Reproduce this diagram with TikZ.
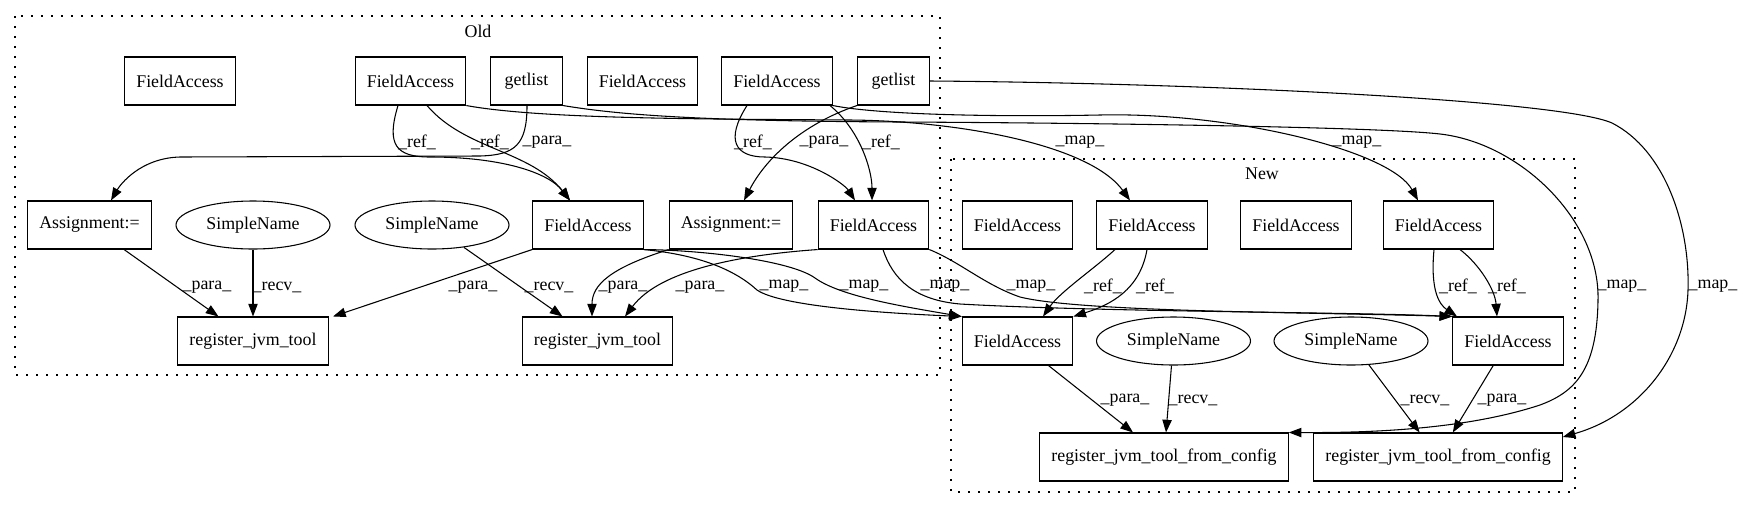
\documentclass[tikz,border=0pt]{standalone}
\usepackage{fontspec}
\setmainfont{Liberation Serif}
\usetikzlibrary{arrows.meta,shapes.geometric}
\begin{document}
\begin{tikzpicture}[
			x=0.75pt, y=-0.75pt,
			font=\fontsize{13.4}{16}\selectfont,
			box/.style={draw, line width=0.8pt, rectangle, minimum height=36pt, minimum width=54pt, inner xsep=8.7pt},
			oval/.style={draw, line width=0.8pt, ellipse, minimum width=115.5pt, minimum height=36pt, inner sep=0pt},
			edge/.style={line width=0.8pt, -{Triangle[length=9.5pt,width=7pt]}},
			lbl/.style={inner sep=1pt},
			cluster/.style={line width=1pt, dash pattern=on 1.5pt off 6pt}
		]
		\useasboundingbox (0,0) rectangle (1744,508);

		\draw[cluster] (15,16) rectangle (940,375);
		\node (oldlbl) at (478,31) {Old};
		\draw[cluster] (951,159) rectangle (1575,492);
		\node (newlbl) at (1262,174) {New};

		\node[box] (ofa1) at (180,81) {FieldAccess};
		\node[box] (ofa2) at (410.5,81) {FieldAccess};
		\node[box] (ogl1) at (526.5,81) {getlist};
		\node[box] (ofa3) at (642.5,81) {FieldAccess};
		\node[box] (ofa4) at (777,81) {FieldAccess};
		\node[box] (ogl2) at (893.5,81) {getlist};
		\node[box] (oas1) at (89.5,225) {Assignment:=};
		\node[oval] (osn1) at (253,225) {SimpleName};
		\node[oval] (osn2) at (432,225) {SimpleName};
		\node[box] (ofa5) at (588,225) {FieldAccess};
		\node[box] (oas2) at (731,225) {Assignment:=};
		\node[box] (ofa6) at (873.5,225) {FieldAccess};
		\node[box] (oreg1) at (253,341) {register\_jvm\_tool};
		\node[box] (oreg2) at (597.5,341) {register\_jvm\_tool};

		\node[box] (nfa1) at (1017.5,225) {FieldAccess};
		\node[box] (nfa2) at (1152,225) {FieldAccess};
		\node[box] (nfa3) at (1296,225) {FieldAccess};
		\node[box] (nfa4) at (1438.5,225) {FieldAccess};
		\node[box] (nfa5) at (1017.5,341) {FieldAccess};
		\node[oval] (nsn1) at (1173.5,341) {SimpleName};
		\node[oval] (nsn2) at (1351,341) {SimpleName};
		\node[box] (nfa6) at (1508,341) {FieldAccess};
		\node[box] (nrc1) at (1164,457) {register\_jvm\_tool\_from\_config};
		\node[box] (nrc2) at (1438,457) {register\_jvm\_tool\_from\_config};

		\draw[edge] (ofa2.south -| 398,0) .. controls (386,145) and (396,157) .. (430,157) .. controls (500,157) and (548,172) .. (ofa5.north -| 570,0) node[lbl] at (417,142) {\_ref\_};
		\draw[edge] (ofa2.south -| 427,0) .. controls (465,150) and (530,150) .. (ofa5.north -| 570,0) node[lbl] at (490,142) {\_ref\_};
		\draw[edge] (ogl1.south -| 527,0) .. controls (527,145) and (515,155) .. (480,156) -- (180,157) .. controls (140,158) and (120,185) .. (oas1.north -| 111,0) node[lbl] at (547,142) {\_para\_};
		\draw[edge] (ofa4.south -| 747,0) .. controls (725,140) and (735,157) .. (765,157) .. controls (810,158) and (845,185) .. (ofa6.north -| 855,0) node[lbl] at (753,142) {\_ref\_};
		\draw[edge] (ogl2.south west) .. controls (800,125) and (765,160) .. (oas2.north -| 744,0) node[lbl] at (824,142) {\_para\_};
		\draw[edge] (ofa4.south -| 830,0) .. controls (860,130) and (872,170) .. (ofa6.north -| 872,0) node[lbl] at (881,142) {\_ref\_};

		\draw[edge] (oas1) -- (oreg1) node[lbl] at (207,287) {\_para\_};
		\draw[edge] (osn1) -- (oreg1) node[lbl] at (277,287) {\_recv\_};
		\draw[edge] (ofa5.south west) -- (oreg1.north -| 333,0) node[lbl] at (473,287) {\_para\_};
		\draw[edge] (osn2) -- (oreg2) node[lbl] at (549,287) {\_recv\_};
		\draw[edge] (oas2.south west) .. controls (610,268) and (592,285) .. (oreg2.north -| 592,0) node[lbl] at (623,287) {\_para\_};
		\draw[edge] (ofa6.south west) .. controls (740,255) and (660,270) .. (oreg2.north -| 625,0) node[lbl] at (700,287) {\_para\_};

		\draw[edge] (ofa2.south east) .. controls (540,119) and (700,119) .. (850,120) .. controls (960,121) and (1090,145) .. (nfa2.north -| 1130,0) node[lbl] at (1080,142) {\_map\_};
		\draw[edge] (ogl1.south east) .. controls (620,115) and (700,121) .. (900,122) .. controls (1100,123) and (1380,127) .. (1440,134) .. controls (1520,143) and (1600,220) .. (1598,300) .. controls (1597,370) and (1575,392) .. (1540,405) .. controls (1470,428) and (1380,433) .. (nrc1.north east) node[lbl] at (1622,286) {\_map\_};
		\draw[edge] (ofa4.south east) .. controls (880,115) and (1000,117) .. (1100,115) .. controls (1230,112) and (1390,150) .. (nfa4.north -| 1418,0) node[lbl] at (1357,142) {\_map\_};
		\draw[edge] (ogl2.east) .. controls (1200,83) and (1560,100) .. (1612,123) .. controls (1665,150) and (1690,225) .. (1688,290) .. controls (1686,355) and (1640,415) .. (nrc2.east |- 0,437) node[lbl] at (1713,286) {\_map\_};
		\draw[edge] (ofa5.south east) .. controls (700,255) and (735,270) .. (757,290) .. controls (780,306) and (880,313) .. (nfa5.north west) node[lbl] at (784,286) {\_map\_};
		\draw[edge] (ofa5.south east) .. controls (700,250) and (790,260) .. (815,278) .. controls (840,296) and (900,306) .. (nfa5.north west) node[lbl] at (864,286) {\_map\_};
		\draw[edge] (ofa6.south -| 883,0) .. controls (893,280) and (915,300) .. (960,304) .. controls (1100,312) and (1350,312) .. (nfa6.north west) node[lbl] at (945,286) {\_map\_};
		\draw[edge] (ofa6.south east) .. controls (960,262) and (985,285) .. (1020,297) .. controls (1080,312) and (1300,312) .. (nfa6.north west) node[lbl] at (1031,286) {\_map\_};

		\draw[edge] (nfa2.south -| 1115,0) .. controls (1095,268) and (1060,292) .. (nfa5.north -| 1043,0) node[lbl] at (1103,286) {\_ref\_};
		\draw[edge] (nfa2.south -| 1147,0) .. controls (1140,290) and (1110,305) .. (nfa5.north east) node[lbl] at (1155,286) {\_ref\_};
		\draw[edge] (nfa4.south -| 1434,0) .. controls (1430,292) and (1440,305) .. (nfa6.north -| 1457,0) node[lbl] at (1458,286) {\_ref\_};
		\draw[edge] (nfa4.south -| 1460,0) .. controls (1480,265) and (1495,290) .. (nfa6.north -| 1497,0) node[lbl] at (1507,286) {\_ref\_};

		\draw[edge] (nfa5) -- (nrc1) node[lbl] at (1125,400) {\_para\_};
		\draw[edge] (nsn1) -- (nrc1) node[lbl] at (1193,400) {\_recv\_};
		\draw[edge] (nsn2) -- (nrc2) node[lbl] at (1425,400) {\_recv\_};
		\draw[edge] (nfa6) -- (nrc2) node[lbl] at (1502,400) {\_para\_};
	\end{tikzpicture}
\end{document}
